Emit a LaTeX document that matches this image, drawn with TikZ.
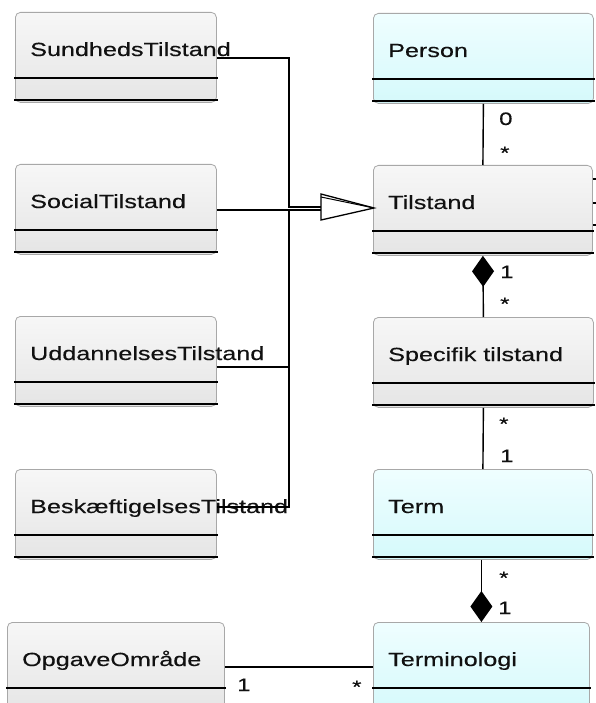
\documentclass[tikz,border=0pt]{standalone}
\usepackage{fontspec}
\newfontfamily\umlfont[FakeStretch=1.325,FakeBold=0.35]{Liberation Sans}
\usetikzlibrary{calc,arrows.meta}

\definecolor{boxedge}{HTML}{A8A8A8}
\definecolor{grayTop}{HTML}{F7F7F7}
\definecolor{grayBot}{HTML}{E5E5E5}
\definecolor{cyanTop}{HTML}{EFFEFF}
\definecolor{cyanBot}{HTML}{D5F9FB}
\definecolor{inkcol}{HTML}{111111}

\tikzset{
  classbox/.style={draw=boxedge, line width=0.8pt, rounded corners=5pt,
    anchor=north west, inner sep=0pt, minimum height=90pt},
  plainclass/.style={classbox, top color=grayTop, bottom color=grayBot},
  coreclass/.style={classbox, top color=cyanTop, bottom color=cyanBot},
  classname/.style={anchor=base west, inner sep=0pt, text=inkcol,
    font=\umlfont\fontsize{19}{22}\selectfont},
  mult/.style={anchor=base west, inner sep=0pt, text=inkcol,
    font=\umlfont\fontsize{18}{20}\selectfont},
  divline/.style={black, line width=1.2pt},
  baseline rule/.style={black, line width=1.5pt},
  assoc/.style={black, line width=1.4pt},
  compos/.style={assoc, -{Diamond[length=31pt,width=22pt]}},
}

% class box: style, name, left, top, width, class name
\newcommand{\umlclass}[6]{%
  \node[#1, minimum width=#5pt] (#2) at (#3,#4) {};
  \node[classname] (#2-label) at ($(#2.north west)+(15,44)$) {#6};
  \draw[divline] ($(#2.north west)+(-1,66)$) -- ($(#2.north east)+(1,66)$);
  \draw[baseline rule] ($(#2.north west)+(-1,88)$) -- ($(#2.north east)+(1,88)$);
}

\begin{document}
\begin{tikzpicture}[x=1pt,y=-1pt]
  \fill[white] (0,0) rectangle (595,703);
  \useasboundingbox (0,0) rectangle (595,703);

  % left column: kinds of state
  \umlclass{plainclass}{sund}{15}{12}{201}{SundhedsTilstand}
  \umlclass{plainclass}{social}{15}{164}{201}{SocialTilstand}
  \umlclass{plainclass}{udd}{15}{316}{201}{UddannelsesTilstand}
  \umlclass{plainclass}{besk}{15}{469}{201}{BeskæftigelsesTilstand}
  \umlclass{plainclass}{opg}{7}{622}{217}{OpgaveOmråde}

  % right column
  \umlclass{coreclass}{person}{373}{13}{220}{Person}
  \umlclass{plainclass}{tilstand}{373}{165}{219}{Tilstand}
  \umlclass{plainclass}{spec}{373}{317}{220}{Specifik tilstand}
  \umlclass{coreclass}{term}{373}{469}{219}{Term}
  \umlclass{coreclass}{termi}{373}{622}{216}{Terminologi}

  % associations down the right column
  \draw[assoc] (person.south) -- (tilstand.north);
  \draw[compos] (spec.north) -- (tilstand.south);
  \draw[assoc] (spec.south) -- (term.north);
  \draw[compos] (termi.north |- term.south) -- (termi.north);

  % OpgaveOmråde -- Terminologi
  \coordinate (opgEnd) at ($(opg.north east)+(0,45)$);
  \draw[assoc] (opgEnd) -- (opgEnd -| termi.west);

  % generalisation into Tilstand
  \coordinate (genTip) at ($(tilstand.north west)+(1,43)$);
  \coordinate (genBase) at ($(genTip)+(-53,0)$);
  \coordinate (busTop) at ($(genBase)+(-32,-1)$);
  \coordinate (busLow) at ($(genBase)+(-32,2)$);
  \draw[assoc] ($(sund.north east)+(0,46)$) -| (busTop) -- (busTop -| genBase);
  \draw[assoc] ($(social.north east)+(0,46)$) -- ($(genBase)+(0,2)$);
  \draw[assoc] ($(udd.north east)+(0,51)$) -| (busLow);
  \draw[assoc] ($(besk.north east)+(0,38)$) -| (busLow);
  \draw[assoc, line width=1.3pt, fill=white, line join=miter]
    (genTip) -- ++(-53,-14) -- ++(0,26) -- cycle;
  \draw[black, line width=1pt] ($(genBase)+(0,-11)$) -- (genTip);

  % links leaving Tilstand to the right
  \foreach \dy [count=\i] in {14,38,60} {
    \coordinate (stub\i) at ($(tilstand.north east)+(0,\dy)$);
    \draw[black, line width=1.1pt] (stub\i) -- ++(8,0);
  }

  % multiplicities
  \node[mult] (m1) at (499,125) {0};
  \node[mult] (m2) at (500,159) {*};
  \node[mult] (m3) at (500,278) {1};
  \node[mult] (m4) at (500,310) {*};
  \node[mult] (m5) at (499,430) {*};
  \node[mult] (m6) at (500,462) {1};
  \node[mult] (m7) at (499,584) {*};
  \node[mult] (m8) at (498,614) {1};
  \node[mult] (m9) at (237,691) {1};
  \node[mult] (m10) at (352,693) {*};
\end{tikzpicture}
\end{document}
